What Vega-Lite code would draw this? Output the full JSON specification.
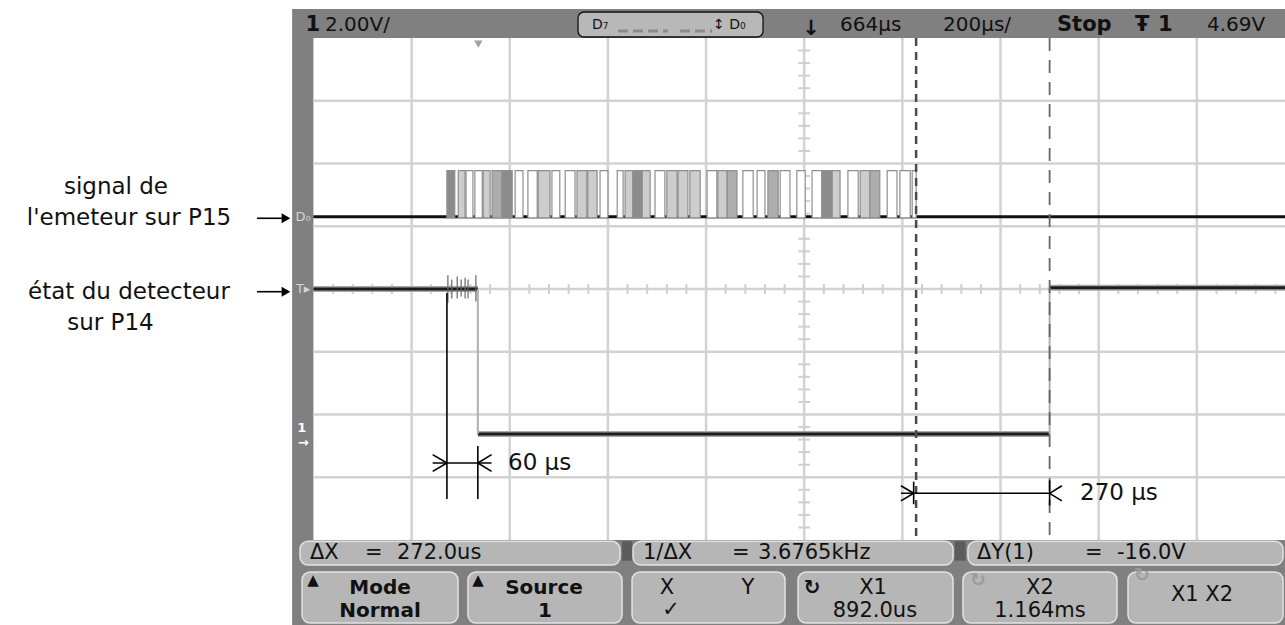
{
"$schema": "https://vega.github.io/schema/vega-lite/v6.json",
"width": 1285, "height": 625, "padding": 0, "autosize": {"type": "none"},
"background": "#ffffff",
"config": {"view": {"stroke": null}},
"datasets": {
"frame": [{"t": -379.4, "t2": 1643.6, "y": 4.462, "y2": -5.3546}],
"screen": [{"t": -336, "t2": 1643.6, "y": 4.0, "y2": -4.0}],
"vgrid": [{"t": -136, "t2": -136, "y": 4, "y2": -4}, {"t": 64, "t2": 64, "y": 4, "y2": -4}, {"t": 264, "t2": 264, "y": 4, "y2": -4}, {"t": 464, "t2": 464, "y": 4, "y2": -4}, {"t": 664, "t2": 664, "y": 4, "y2": -4}, {"t": 864, "t2": 864, "y": 4, "y2": -4}, {"t": 1064, "t2": 1064, "y": 4, "y2": -4}, {"t": 1264, "t2": 1264, "y": 4, "y2": -4}, {"t": 1464, "t2": 1464, "y": 4, "y2": -4}],
"hgrid": [{"t": -336, "t2": 1643.6, "y": -3, "y2": -3}, {"t": -336, "t2": 1643.6, "y": -2, "y2": -2}, {"t": -336, "t2": 1643.6, "y": -1, "y2": -1}, {"t": -336, "t2": 1643.6, "y": 0, "y2": 0}, {"t": -336, "t2": 1643.6, "y": 1, "y2": 1}, {"t": -336, "t2": 1643.6, "y": 2, "y2": 2}, {"t": -336, "t2": 1643.6, "y": 3, "y2": 3}],
"hticks": [{"t": -296, "t2": -296, "y": 0.08, "y2": -0.08}, {"t": -256, "t2": -256, "y": 0.08, "y2": -0.08}, {"t": -216, "t2": -216, "y": 0.08, "y2": -0.08}, {"t": -176, "t2": -176, "y": 0.08, "y2": -0.08}, {"t": -96, "t2": -96, "y": 0.08, "y2": -0.08}, {"t": -56, "t2": -56, "y": 0.08, "y2": -0.08}, {"t": -16, "t2": -16, "y": 0.08, "y2": -0.08}, {"t": 24, "t2": 24, "y": 0.08, "y2": -0.08}, {"t": 104, "t2": 104, "y": 0.08, "y2": -0.08}, {"t": 144, "t2": 144, "y": 0.08, "y2": -0.08}, {"t": 184, "t2": 184, "y": 0.08, "y2": -0.08}, {"t": 224, "t2": 224, "y": 0.08, "y2": -0.08}, {"t": 304, "t2": 304, "y": 0.08, "y2": -0.08}, {"t": 344, "t2": 344, "y": 0.08, "y2": -0.08}, {"t": 384, "t2": 384, "y": 0.08, "y2": -0.08}, {"t": 424, "t2": 424, "y": 0.08, "y2": -0.08}, {"t": 504, "t2": 504, "y": 0.08, "y2": -0.08}, {"t": 544, "t2": 544, "y": 0.08, "y2": -0.08}, {"t": 584, "t2": 584, "y": 0.08, "y2": -0.08}, {"t": 624, "t2": 624, "y": 0.08, "y2": -0.08}, {"t": 704, "t2": 704, "y": 0.08, "y2": -0.08}, {"t": 744, "t2": 744, "y": 0.08, "y2": -0.08}, {"t": 784, "t2": 784, "y": 0.08, "y2": -0.08}, {"t": 824, "t2": 824, "y": 0.08, "y2": -0.08}, {"t": 904, "t2": 904, "y": 0.08, "y2": -0.08}, {"t": 944, "t2": 944, "y": 0.08, "y2": -0.08}, {"t": 984, "t2": 984, "y": 0.08, "y2": -0.08}, {"t": 1024, "t2": 1024, "y": 0.08, "y2": -0.08}, {"t": 1104, "t2": 1104, "y": 0.08, "y2": -0.08}, {"t": 1144, "t2": 1144, "y": 0.08, "y2": -0.08}, {"t": 1184, "t2": 1184, "y": 0.08, "y2": -0.08}, {"t": 1224, "t2": 1224, "y": 0.08, "y2": -0.08}, {"t": 1304, "t2": 1304, "y": 0.08, "y2": -0.08}, {"t": 1344, "t2": 1344, "y": 0.08, "y2": -0.08}, {"t": 1384, "t2": 1384, "y": 0.08, "y2": -0.08}, {"t": 1424, "t2": 1424, "y": 0.08, "y2": -0.08}, {"t": 1504, "t2": 1504, "y": 0.08, "y2": -0.08}, {"t": 1544, "t2": 1544, "y": 0.08, "y2": -0.08}, {"t": 1584, "t2": 1584, "y": 0.08, "y2": -0.08}, {"t": 1624, "t2": 1624, "y": 0.08, "y2": -0.08}],
"vticks": [{"t": 652, "t2": 676, "y": 3.8, "y2": 3.8}, {"t": 652, "t2": 676, "y": 3.6, "y2": 3.6}, {"t": 652, "t2": 676, "y": 3.4, "y2": 3.4}, {"t": 652, "t2": 676, "y": 3.2, "y2": 3.2}, {"t": 652, "t2": 676, "y": 2.8, "y2": 2.8}, {"t": 652, "t2": 676, "y": 2.6, "y2": 2.6}, {"t": 652, "t2": 676, "y": 2.4, "y2": 2.4}, {"t": 652, "t2": 676, "y": 2.2, "y2": 2.2}, {"t": 652, "t2": 676, "y": 1.8, "y2": 1.8}, {"t": 652, "t2": 676, "y": 1.6, "y2": 1.6}, {"t": 652, "t2": 676, "y": 1.4, "y2": 1.4}, {"t": 652, "t2": 676, "y": 1.2, "y2": 1.2}, {"t": 652, "t2": 676, "y": 0.8, "y2": 0.8}, {"t": 652, "t2": 676, "y": 0.6, "y2": 0.6}, {"t": 652, "t2": 676, "y": 0.4, "y2": 0.4}, {"t": 652, "t2": 676, "y": 0.2, "y2": 0.2}, {"t": 652, "t2": 676, "y": -0.2, "y2": -0.2}, {"t": 652, "t2": 676, "y": -0.4, "y2": -0.4}, {"t": 652, "t2": 676, "y": -0.6, "y2": -0.6}, {"t": 652, "t2": 676, "y": -0.8, "y2": -0.8}, {"t": 652, "t2": 676, "y": -1.2, "y2": -1.2}, {"t": 652, "t2": 676, "y": -1.4, "y2": -1.4}, {"t": 652, "t2": 676, "y": -1.6, "y2": -1.6}, {"t": 652, "t2": 676, "y": -1.8, "y2": -1.8}, {"t": 652, "t2": 676, "y": -2.2, "y2": -2.2}, {"t": 652, "t2": 676, "y": -2.4, "y2": -2.4}, {"t": 652, "t2": 676, "y": -2.6, "y2": -2.6}, {"t": 652, "t2": 676, "y": -2.8, "y2": -2.8}, {"t": 652, "t2": 676, "y": -3.2, "y2": -3.2}, {"t": 652, "t2": 676, "y": -3.4, "y2": -3.4}, {"t": 652, "t2": 676, "y": -3.6, "y2": -3.6}, {"t": 652, "t2": 676, "y": -3.8, "y2": -3.8}],
"dbox": [{"t": 203.1, "t2": 580.1, "y": 4.414, "y2": 4.016}],
"keys": [{"t": -363.3, "t2": 288.7, "y": -4.02, "y2": -4.4}, {"t": 315.2, "t2": 967.2, "y": -4.02, "y2": -4.4}, {"t": 997.6, "t2": 1639.6, "y": -4.02, "y2": -4.4}, {"t": -359.2, "t2": -41.4, "y": -4.51, "y2": -5.323}, {"t": -21.1, "t2": 292.8, "y": -4.51, "y2": -5.323}, {"t": 313.2, "t2": 624.9, "y": -4.51, "y2": -5.323}, {"t": 651.4, "t2": 967.2, "y": -4.51, "y2": -5.323}, {"t": 987.5, "t2": 1301.3, "y": -4.51, "y2": -5.323}, {"t": 1323.7, "t2": 1639.6, "y": -4.51, "y2": -5.323}],
"seps": [{"t": 292.8, "t2": 313.2, "y": -4.02, "y2": -4.33}, {"t": 970.5, "t2": 993.0, "y": -4.02, "y2": -4.33}],
"ddash": [{"t": 284.6, "t2": 386.4, "y": 4.112, "y2": 4.112}, {"t": 410.9, "t2": 476.1, "y": 4.112, "y2": 4.112}],
"d0low": [{"t": -336, "t2": 1643.6, "y": 1.152, "y2": 1.152}],
"pulses": [{"t": -64, "t2": -48, "y": 1.885, "y2": 1.132, "s": "d"}, {"t": -41, "t2": -27, "y": 1.885, "y2": 1.132, "s": "l"}, {"t": -25, "t2": -11, "y": 1.885, "y2": 1.132, "s": "o"}, {"t": -7, "t2": 8, "y": 1.885, "y2": 1.132, "s": "o"}, {"t": 10, "t2": 24, "y": 1.885, "y2": 1.132, "s": "l"}, {"t": 28, "t2": 48, "y": 1.885, "y2": 1.132, "s": "m"}, {"t": 48, "t2": 69, "y": 1.885, "y2": 1.132, "s": "d"}, {"t": 75, "t2": 91, "y": 1.885, "y2": 1.132, "s": "o"}, {"t": 101, "t2": 120, "y": 1.885, "y2": 1.132, "s": "o"}, {"t": 122, "t2": 146, "y": 1.885, "y2": 1.132, "s": "l"}, {"t": 150, "t2": 166, "y": 1.885, "y2": 1.132, "s": "o"}, {"t": 177, "t2": 197, "y": 1.885, "y2": 1.132, "s": "o"}, {"t": 201, "t2": 221, "y": 1.885, "y2": 1.132, "s": "l"}, {"t": 223, "t2": 242, "y": 1.885, "y2": 1.132, "s": "l"}, {"t": 248, "t2": 264, "y": 1.885, "y2": 1.132, "s": "o"}, {"t": 283, "t2": 295, "y": 1.885, "y2": 1.132, "s": "o"}, {"t": 299, "t2": 315, "y": 1.885, "y2": 1.132, "s": "l"}, {"t": 315, "t2": 334, "y": 1.885, "y2": 1.132, "s": "d"}, {"t": 334, "t2": 350, "y": 1.885, "y2": 1.132, "s": "l"}, {"t": 360, "t2": 380, "y": 1.885, "y2": 1.132, "s": "o"}, {"t": 384, "t2": 405, "y": 1.885, "y2": 1.132, "s": "l"}, {"t": 407, "t2": 427, "y": 1.885, "y2": 1.132, "s": "l"}, {"t": 431, "t2": 452, "y": 1.885, "y2": 1.132, "s": "l"}, {"t": 466, "t2": 486, "y": 1.885, "y2": 1.132, "s": "o"}, {"t": 488, "t2": 507, "y": 1.885, "y2": 1.132, "s": "l"}, {"t": 507, "t2": 527, "y": 1.885, "y2": 1.132, "s": "m"}, {"t": 539, "t2": 560, "y": 1.885, "y2": 1.132, "s": "o"}, {"t": 568, "t2": 584, "y": 1.885, "y2": 1.132, "s": "o"}, {"t": 590, "t2": 611, "y": 1.885, "y2": 1.132, "s": "m"}, {"t": 615, "t2": 635, "y": 1.885, "y2": 1.132, "s": "o"}, {"t": 649, "t2": 666, "y": 1.885, "y2": 1.132, "s": "o"}, {"t": 680, "t2": 700, "y": 1.885, "y2": 1.132, "s": "o"}, {"t": 700, "t2": 721, "y": 1.885, "y2": 1.132, "s": "d"}, {"t": 721, "t2": 737, "y": 1.885, "y2": 1.132, "s": "l"}, {"t": 753, "t2": 774, "y": 1.885, "y2": 1.132, "s": "o"}, {"t": 778, "t2": 798, "y": 1.885, "y2": 1.132, "s": "l"}, {"t": 798, "t2": 818, "y": 1.885, "y2": 1.132, "s": "m"}, {"t": 833, "t2": 853, "y": 1.885, "y2": 1.132, "s": "o"}, {"t": 859, "t2": 880, "y": 1.885, "y2": 1.132, "s": "o"}, {"t": 884, "t2": 892, "y": 1.885, "y2": 1.132, "s": "o"}],
"det": [{"t": -336, "t2": -1, "y": 0, "y2": 0}, {"t": -1, "t2": 1164, "y": -2.31, "y2": -2.31}, {"t": 1164, "t2": 1643.6, "y": 0.02, "y2": 0.02}],
"detedge": [{"t": -1, "t2": -1, "y": 0, "y2": -2.31}, {"t": 1164, "t2": 1164, "y": 0.02, "y2": -2.31}],
"glitch": [{"t": -62, "t2": -62, "y": 0.22, "y2": -0.22}, {"t": -54, "t2": -54, "y": 0.15, "y2": -0.15}, {"t": -43, "t2": -43, "y": 0.2, "y2": -0.15}, {"t": -35, "t2": -35, "y": 0.15, "y2": -0.12}, {"t": -27, "t2": -27, "y": 0.18, "y2": -0.15}, {"t": -21, "t2": -21, "y": 0.15, "y2": -0.15}, {"t": -5, "t2": -5, "y": 0.22, "y2": -0.2}],
"x1": [{"t": 892, "t2": 892, "y": 4.0, "y2": -4.0}],
"x2": [{"t": 1164, "t2": 1164, "y": 4.0, "y2": -4.0}],
"ann": [{"t": -64, "t2": -64, "y": -0.064, "y2": -3.347}, {"t": -1, "t2": -1, "y": -2.502, "y2": -3.347}, {"t": -93, "t2": 27, "y": -2.773, "y2": -2.773}, {"t": -93, "t2": -64, "y": -2.64, "y2": -2.773}, {"t": -93, "t2": -64, "y": -2.906, "y2": -2.773}, {"t": 27, "t2": -1, "y": -2.64, "y2": -2.773}, {"t": 27, "t2": -1, "y": -2.906, "y2": -2.773}, {"t": 861, "t2": 1164, "y": -3.256, "y2": -3.256}, {"t": 861, "t2": 887, "y": -3.136, "y2": -3.256}, {"t": 861, "t2": 887, "y": -3.376, "y2": -3.256}, {"t": 887, "t2": 887, "y": -3.07, "y2": -3.43}, {"t": 1189, "t2": 1164, "y": -3.136, "y2": -3.256}, {"t": 1189, "t2": 1164, "y": -3.376, "y2": -3.256}, {"t": 1164, "t2": 1164, "y": -3.05, "y2": -3.45}, {"t": -451, "t2": -398, "y": 1.127, "y2": 1.127}, {"t": -451, "t2": -398, "y": -0.043, "y2": -0.043}],
"heads": [{"t": -392, "y": 1.127}, {"t": -392, "y": -0.043}],
"trig": [{"t": 0, "y": 3.904}],
"labels": [{"t": -738.3, "y": 1.626, "label": "signal de"}, {"t": -711.8, "y": 1.131, "label": "l'emeteur sur P15"}, {"t": -711.8, "y": -0.048, "label": "état du detecteur"}, {"t": -749.4, "y": -0.542, "label": "sur P14"}],
"meas": [{"t": 60.5, "y": -2.773, "label": "60 µs"}, {"t": 1225.9, "y": -3.256, "label": "270 µs"}],
"hdr": [{"t": -312.4, "y": 4.207, "label": "2.00V/"}, {"t": 736.9, "y": 4.207, "label": "664µs"}, {"t": 946.8, "y": 4.207, "label": "200µs/"}, {"t": 1484.6, "y": 4.207, "label": "4.69V"}],
"hdrb": [{"t": -352, "y": 4.207, "label": "1"}, {"t": 1179.0, "y": 4.207, "label": "Stop"}, {"t": 1337.9, "y": 4.207, "label": "Ŧ"}, {"t": 1384.8, "y": 4.207, "label": "1"}, {"t": 660, "y": 4.15, "label": "↓"}],
"dtxt": [{"t": 231.6, "y": 4.207, "label": "D₇"}, {"t": 478.2, "y": 4.207, "label": "↕ D₀"}],
"info": [{"t": -343.0, "y": -4.207, "label": "ΔX"}, {"t": -230.9, "y": -4.207, "label": "="}, {"t": -165.7, "y": -4.207, "label": "272.0us"}, {"t": 335.5, "y": -4.207, "label": "1/ΔX"}, {"t": 516.8, "y": -4.207, "label": "="}, {"t": 569.8, "y": -4.207, "label": "3.6765kHz"}, {"t": 1016.0, "y": -4.207, "label": "ΔY(1)"}, {"t": 1236.1, "y": -4.207, "label": "="}, {"t": 1301.3, "y": -4.207, "label": "-16.0V"}],
"skb": [{"t": -200.3, "y": -4.757, "label": "Mode"}, {"t": -200.3, "y": -5.124, "label": "Normal"}, {"t": 133.8, "y": -4.757, "label": "Source"}, {"t": 135.8, "y": -5.124, "label": "1"}, {"t": 679.9, "y": -4.765, "label": "↻"}],
"skn": [{"t": 384.5, "y": -4.757, "label": "X"}, {"t": 549.5, "y": -4.757, "label": "Y"}, {"t": 392.6, "y": -5.116, "label": "✓"}, {"t": 804.2, "y": -4.757, "label": "X1"}, {"t": 808, "y": -5.124, "label": "892.0us"}, {"t": 1144.4, "y": -4.757, "label": "X2"}, {"t": 1144.4, "y": -5.124, "label": "1.164ms"}, {"t": 1474.5, "y": -4.876, "label": "X1  X2"}],
"tri": [{"t": -336.8, "y": -4.637, "label": "▲"}, {"t": -0.6, "y": -4.637, "label": "▲"}],
"faded": [{"t": 1018.1, "y": -4.637, "label": "↻"}, {"t": 1352.3, "y": -4.558, "label": "↻"}],
"strip": [{"t": -357, "y": 1.152, "label": "D₀"}, {"t": -357, "y": 0, "label": "T▸"}],
"stripw": [{"t": -360, "y": -2.215, "label": "1"}, {"t": -357, "y": -2.454, "label": "→"}]
},
"encoding": {
"x": {"field": "t", "type": "quantitative", "scale": {"domain": [-974.6, 1643.6], "nice": false, "zero": false}, "axis": null},
"y": {"field": "y", "type": "quantitative", "scale": {"domain": [-5.3546, 4.6056], "nice": false, "zero": false}, "axis": null}
},
"layer": [
{"data": {"name": "frame"}, "mark": {"type": "rect", "color": "#808080"}, "encoding": {"x2": {"field": "t2"}, "y2": {"field": "y2"}}},
{"data": {"name": "screen"}, "mark": {"type": "rect", "color": "#ffffff"}, "encoding": {"x2": {"field": "t2"}, "y2": {"field": "y2"}}},
{"data": {"name": "vgrid"}, "mark": {"type": "rule", "color": "#d2d2d2", "strokeWidth": 2.5}, "encoding": {"x2": {"field": "t2"}, "y2": {"field": "y2"}}},
{"data": {"name": "hgrid"}, "mark": {"type": "rule", "color": "#d2d2d2", "strokeWidth": 2.5}, "encoding": {"x2": {"field": "t2"}, "y2": {"field": "y2"}}},
{"data": {"name": "hticks"}, "mark": {"type": "rule", "color": "#cfcfcf", "strokeWidth": 2}, "encoding": {"x2": {"field": "t2"}, "y2": {"field": "y2"}}},
{"data": {"name": "vticks"}, "mark": {"type": "rule", "color": "#cfcfcf", "strokeWidth": 2}, "encoding": {"x2": {"field": "t2"}, "y2": {"field": "y2"}}},
{"data": {"name": "keys"}, "mark": {"type": "rect", "color": "#b6b6b6", "cornerRadius": 8, "stroke": "#e2e2e2", "strokeWidth": 1.5}, "encoding": {"x2": {"field": "t2"}, "y2": {"field": "y2"}}},
{"data": {"name": "seps"}, "mark": {"type": "rect", "color": "#5c5c5c"}, "encoding": {"x2": {"field": "t2"}, "y2": {"field": "y2"}}},
{"data": {"name": "dbox"}, "mark": {"type": "rect", "color": "#b8b8b8", "cornerRadius": 6, "stroke": "#111111", "strokeWidth": 1.3}, "encoding": {"x2": {"field": "t2"}, "y2": {"field": "y2"}}},
{"data": {"name": "ddash"}, "mark": {"type": "rule", "color": "#8a8a8a", "strokeWidth": 3, "strokeDash": [10, 5]}, "encoding": {"x2": {"field": "t2"}, "y2": {"field": "y2"}}},
{"data": {"name": "d0low"}, "mark": {"type": "rule", "color": "#111111", "strokeWidth": 3}, "encoding": {"x2": {"field": "t2"}, "y2": {"field": "y2"}}},
{"data": {"name": "pulses"}, "mark": {"type": "rect", "stroke": "#8e8e8e", "strokeWidth": 1.2}, "encoding": {"x2": {"field": "t2"}, "y2": {"field": "y2"}, "fill": {"field": "s", "type": "nominal", "scale": {"domain": ["o", "l", "m", "d"], "range": ["#ffffff", "#cdcdcd", "#adadad", "#8c8c8c"]}, "legend": null}}},
{"data": {"name": "det"}, "mark": {"type": "rule", "color": "#a8a8a8", "strokeWidth": 6}, "encoding": {"x2": {"field": "t2"}, "y2": {"field": "y2"}}},
{"data": {"name": "det"}, "mark": {"type": "rule", "color": "#1c1c1c", "strokeWidth": 3}, "encoding": {"x2": {"field": "t2"}, "y2": {"field": "y2"}}},
{"data": {"name": "detedge"}, "mark": {"type": "rule", "color": "#b0b0b0", "strokeWidth": 2}, "encoding": {"x2": {"field": "t2"}, "y2": {"field": "y2"}}},
{"data": {"name": "glitch"}, "mark": {"type": "rule", "color": "#666666", "strokeWidth": 1.2}, "encoding": {"x2": {"field": "t2"}, "y2": {"field": "y2"}}},
{"data": {"name": "x1"}, "mark": {"type": "rule", "color": "#4a4a4a", "strokeWidth": 2.5, "strokeDash": [8, 6]}, "encoding": {"x2": {"field": "t2"}, "y2": {"field": "y2"}}},
{"data": {"name": "x2"}, "mark": {"type": "rule", "color": "#666666", "strokeWidth": 1.8, "strokeDash": [13, 9]}, "encoding": {"x2": {"field": "t2"}, "y2": {"field": "y2"}}},
{"data": {"name": "ann"}, "mark": {"type": "rule", "color": "#000000", "strokeWidth": 1.6}, "encoding": {"x2": {"field": "t2"}, "y2": {"field": "y2"}}},
{"data": {"name": "heads"}, "mark": {"type": "point", "shape": "triangle-right", "filled": true, "color": "#000000", "size": 100, "opacity": 1}},
{"data": {"name": "trig"}, "mark": {"type": "point", "shape": "triangle-down", "filled": true, "color": "#a0a0a0", "size": 70, "opacity": 1}},
{"data": {"name": "labels"}, "mark": {"type": "text", "font": "DejaVu Sans", "fontSize": 23, "color": "#111111", "align": "center", "baseline": "middle"}, "encoding": {"text": {"field": "label"}}},
{"data": {"name": "meas"}, "mark": {"type": "text", "font": "DejaVu Sans", "fontSize": 23, "color": "#111111", "align": "left", "baseline": "middle"}, "encoding": {"text": {"field": "label"}}},
{"data": {"name": "hdr"}, "mark": {"type": "text", "font": "DejaVu Sans", "fontSize": 20, "color": "#111111", "align": "left", "baseline": "middle"}, "encoding": {"text": {"field": "label"}}},
{"data": {"name": "hdrb"}, "mark": {"type": "text", "font": "DejaVu Sans", "fontSize": 21, "fontWeight": "bold", "color": "#111111", "align": "left", "baseline": "middle"}, "encoding": {"text": {"field": "label"}}},
{"data": {"name": "dtxt"}, "mark": {"type": "text", "font": "DejaVu Sans", "fontSize": 14, "color": "#111111", "align": "left", "baseline": "middle"}, "encoding": {"text": {"field": "label"}}},
{"data": {"name": "info"}, "mark": {"type": "text", "font": "DejaVu Sans", "fontSize": 21, "color": "#111111", "align": "left", "baseline": "middle"}, "encoding": {"text": {"field": "label"}}},
{"data": {"name": "skb"}, "mark": {"type": "text", "font": "DejaVu Sans", "fontSize": 20, "fontWeight": "bold", "color": "#111111", "align": "center", "baseline": "middle"}, "encoding": {"text": {"field": "label"}}},
{"data": {"name": "skn"}, "mark": {"type": "text", "font": "DejaVu Sans", "fontSize": 21, "color": "#111111", "align": "center", "baseline": "middle"}, "encoding": {"text": {"field": "label"}}},
{"data": {"name": "tri"}, "mark": {"type": "text", "font": "DejaVu Sans", "fontSize": 15, "color": "#111111", "align": "center", "baseline": "middle"}, "encoding": {"text": {"field": "label"}}},
{"data": {"name": "faded"}, "mark": {"type": "text", "font": "DejaVu Sans", "fontSize": 19, "fontWeight": "bold", "color": "#9c9c9c", "align": "center", "baseline": "middle"}, "encoding": {"text": {"field": "label"}}},
{"data": {"name": "strip"}, "mark": {"type": "text", "font": "DejaVu Sans", "fontSize": 13, "color": "#d4d4d4", "align": "center", "baseline": "middle"}, "encoding": {"text": {"field": "label"}}},
{"data": {"name": "stripw"}, "mark": {"type": "text", "font": "DejaVu Sans", "fontSize": 13, "fontWeight": "bold", "color": "#ffffff", "align": "center", "baseline": "middle"}, "encoding": {"text": {"field": "label"}}}
]
}
